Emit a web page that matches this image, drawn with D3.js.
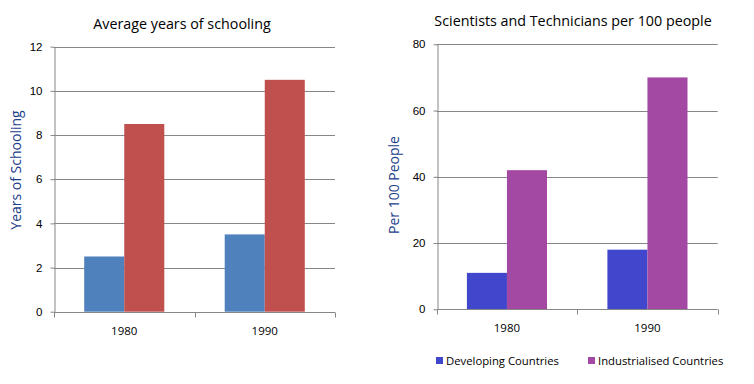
<!DOCTYPE html>
<html>
<head>
<meta charset="utf-8">
<title>Schooling and scientists</title>
<script src="https://cdn.jsdelivr.net/npm/d3@7"></script>
<style>
	body { margin: 0; background: #fff; }
	svg { display: block; font-family: "Open Sans", "Noto Sans", sans-serif; }
	.grid line { stroke: #868686; stroke-width: 1; }
	.axis path, .axis line { stroke: #868686; }
	.axis text { fill: #000; font-size: 11.5px; }
	.title { font-size: 14.3px; fill: #000; }
	.ytitle { font-size: 14px; fill: #1c3d8c; }
	.legend text { font-size: 11.3px; fill: #000; }
</style>
</head>
<body>
<svg id="chart" width="754" height="384"></svg>
<script>
	// data
	const years = ["1980", "1990"];
	const groups = ["Developing Countries", "Industrialised Countries"];

	const schoolingDev = [2.5, 3.5];
	const schoolingInd = [8.5, 10.5];
	const schoolingTicks = [0, 2, 4, 6, 8, 10, 12];

	const scientistsDev = [11, 18];
	const scientistsInd = [42, 70];
	const scientistsTicks = [0, 20, 40, 60, 80];

	const svg = d3.select("#chart");

	function drawPanel(opt) {
		const g = svg.append("g");

		const x = d3.scaleBand().domain(years)
			.range([opt.left, opt.right])
			.paddingInner(0.43).paddingOuter(0.215);
		const sub = d3.scaleBand().domain(groups).range([0, x.bandwidth()]);
		const y = d3.scaleLinear().domain([0, opt.max]).range([opt.bottom, opt.top]);

		// gridlines
		g.append("g").attr("class", "grid")
			.selectAll("line").data(opt.ticks.filter(d => d > 0)).join("line")
			.attr("x1", opt.left).attr("x2", opt.right)
			.attr("y1", d => Math.round(y(d)) + 0.5).attr("y2", d => Math.round(y(d)) + 0.5);

		// bars
		const series = [opt.dev, opt.ind];
		g.append("g").selectAll("g").data(series).join("g")
			.attr("fill", (d, i) => opt.colors[i])
			.selectAll("rect").data((d, i) => d.map((v, j) => ({ year: years[j], v: v, grp: groups[i] })))
			.join("rect")
			.attr("x", d => x(d.year) + sub(d.grp))
			.attr("width", sub.bandwidth())
			.attr("y", d => y(d.v))
			.attr("height", d => y(0) - y(d.v));

		// y axis
		const ya = g.append("g").attr("class", "axis")
			.attr("transform", "translate(" + (Math.round(opt.left) + 0.5) + ",0)")
			.call(d3.axisLeft(y).tickValues(opt.ticks).tickSize(4).tickPadding(8).tickSizeOuter(0));
		ya.selectAll("text").attr("font-size", null);

		// x axis, ticks between categories
		const xa = g.append("g").attr("class", "axis")
			.attr("transform", "translate(0," + (Math.round(opt.bottom) + 0.5) + ")");
		xa.append("line").attr("x1", opt.left).attr("x2", opt.right);
		const edges = [opt.left, (opt.left + opt.right) / 2, opt.right];
		xa.selectAll(".tk").data(edges).join("line").attr("class", "tk")
			.attr("x1", d => Math.round(d) + 0.5).attr("x2", d => Math.round(d) + 0.5)
			.attr("y1", 0).attr("y2", 5);
		xa.selectAll("text").data(years).join("text")
			.attr("x", d => x(d) + x.bandwidth() / 2)
			.attr("y", 22)
			.attr("text-anchor", "middle")
			.text(d => d);

		// titles
		g.append("text").attr("class", "title")
			.attr("x", opt.titleX).attr("y", opt.titleY)
			.attr("text-anchor", "middle").text(opt.title);
		g.append("text").attr("class", "ytitle")
			.attr("transform", "translate(" + opt.yTitleX + "," + opt.yTitleY + ") rotate(-90)")
			.attr("text-anchor", "middle").text(opt.yTitle);

		return { x, sub };
	}

	drawPanel({
		left: 54, right: 335, top: 46.7, bottom: 311.7,
		max: 12, ticks: schoolingTicks,
		dev: schoolingDev, ind: schoolingInd,
		colors: ["#4f81bd", "#c0504d"],
		title: "Average years of schooling", titleX: 182, titleY: 29,
		yTitle: "Years of Schooling", yTitleX: 21, yTitleY: 170
	});

	drawPanel({
		left: 436.7, right: 717.7, top: 44.3, bottom: 309.3,
		max: 80, ticks: scientistsTicks,
		dev: scientistsDev, ind: scientistsInd,
		colors: ["#4047cc", "#a349a4"],
		title: "Scientists and Technicians per 100 people", titleX: 573, titleY: 26,
		yTitle: "Per 100 People", yTitleX: 399, yTitleY: 185
	});

	// legend for the right panel
	const legendX = [436, 588];
	const lg = svg.append("g").attr("class", "legend");
	const items = lg.selectAll("g").data(groups).join("g")
		.attr("transform", (d, i) => "translate(" + legendX[i] + ",357)");
	items.append("rect").attr("width", 7).attr("height", 7)
		.attr("fill", (d, i) => ["#4047cc", "#a349a4"][i]);
	items.append("text").attr("x", 10).attr("y", 8).text(d => d);
</script>
</body>
</html>
